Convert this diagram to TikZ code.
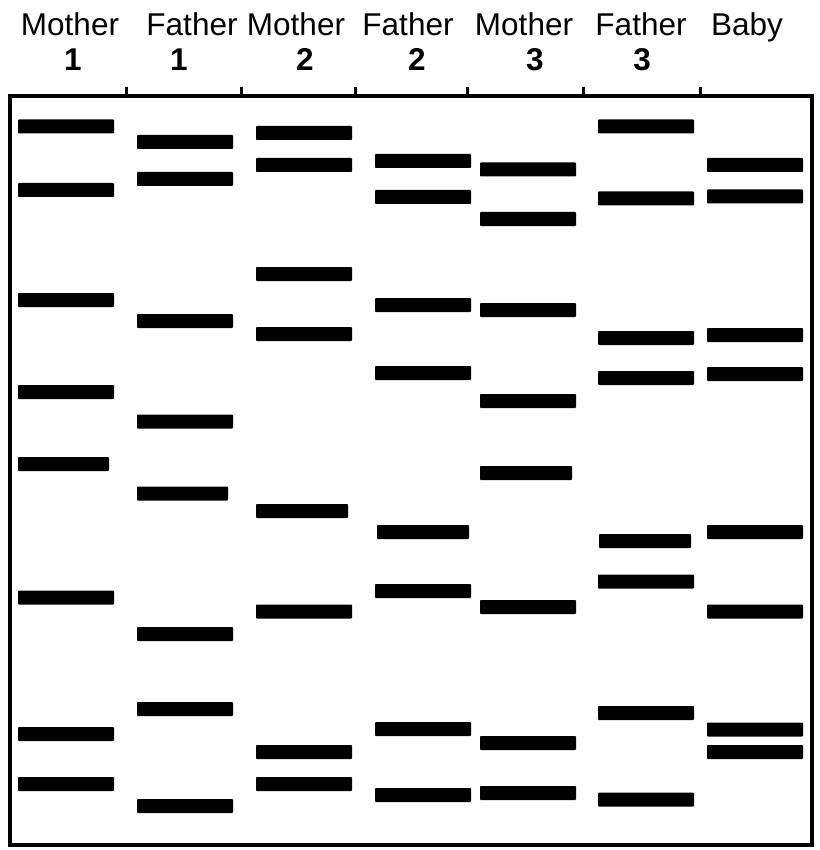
\documentclass[tikz,border=0pt]{standalone}
\usepackage{fontspec}
\setmainfont{Liberation Sans}
\newcommand{\gelband}[3]{\fill[band] (#1,#3-7) rectangle (#2,#3+7);}
\begin{document}
\begin{tikzpicture}[x=1pt,y=-1pt,
  band/.style={fill=black,rounded corners=0.8pt},
  gelframe/.style={draw=black,line width=4pt},
  tickmark/.style={draw=black,line width=3pt},
  lanename/.style={anchor=base,inner sep=0pt,font=\fontsize{31.5}{33}\selectfont},
  lanenum/.style={anchor=base,inner sep=0pt,font=\fontsize{31.5}{33}\selectfont\bfseries}]
\useasboundingbox (0,0) rectangle (819,850);
% labels
\node[lanename] (m1) at (70,36) {Mother};
\node[lanename] (f1) at (192,36) {Father};
\node[lanename] (m2) at (296,36) {Mother};
\node[lanename] (f2) at (408,36) {Father};
\node[lanename] (m3) at (524,36) {Mother};
\node[lanename] (f3) at (641,36) {Father};
\node[lanename] (bb) at (747,36) {Baby};
\node[lanenum] (n1) at (73,71) {1};
\node[lanenum] (n2) at (179,71) {1};
\node[lanenum] (n3) at (305,71) {2};
\node[lanenum] (n4) at (417,71) {2};
\node[lanenum] (n5) at (535,71) {3};
\node[lanenum] (n6) at (642,71) {3};
% frame and ticks
\draw[gelframe] (10,96) rectangle (812,845);
\foreach \tx in {126,241,355,467,583,700}{
  \draw[tickmark] (\tx,87) -- (\tx,96);}
% lane 1
\foreach \yy in {126.5,190,300,392,597.5,734,784}{\gelband{18}{114}{\yy}}
\gelband{18}{109}{464}
% lane 2
\foreach \yy in {142,179,321,421.5,634,709,806}{\gelband{137}{233}{\yy}}
\gelband{137}{228}{493.5}
% lane 3
\foreach \yy in {133,165,274,334,611.5,752,784}{\gelband{256}{352}{\yy}}
\gelband{256}{348}{511}
% lane 4
\foreach \yy in {161,197,305,373,591,729,795}{\gelband{375}{471}{\yy}}
\gelband{377}{469}{532}
% lane 5
\foreach \yy in {169.5,219,310,401,607,743,793}{\gelband{480}{576}{\yy}}
\gelband{480}{572}{473}
% lane 6
\foreach \yy in {126.5,198.5,338,378,581.5,713,799.5}{\gelband{598}{694}{\yy}}
\gelband{599}{691}{541}
% lane 7
\foreach \yy in {165,196.5,335,374,532,611.5,729.5,752}{\gelband{707}{803}{\yy}}
\end{tikzpicture}
\end{document}
